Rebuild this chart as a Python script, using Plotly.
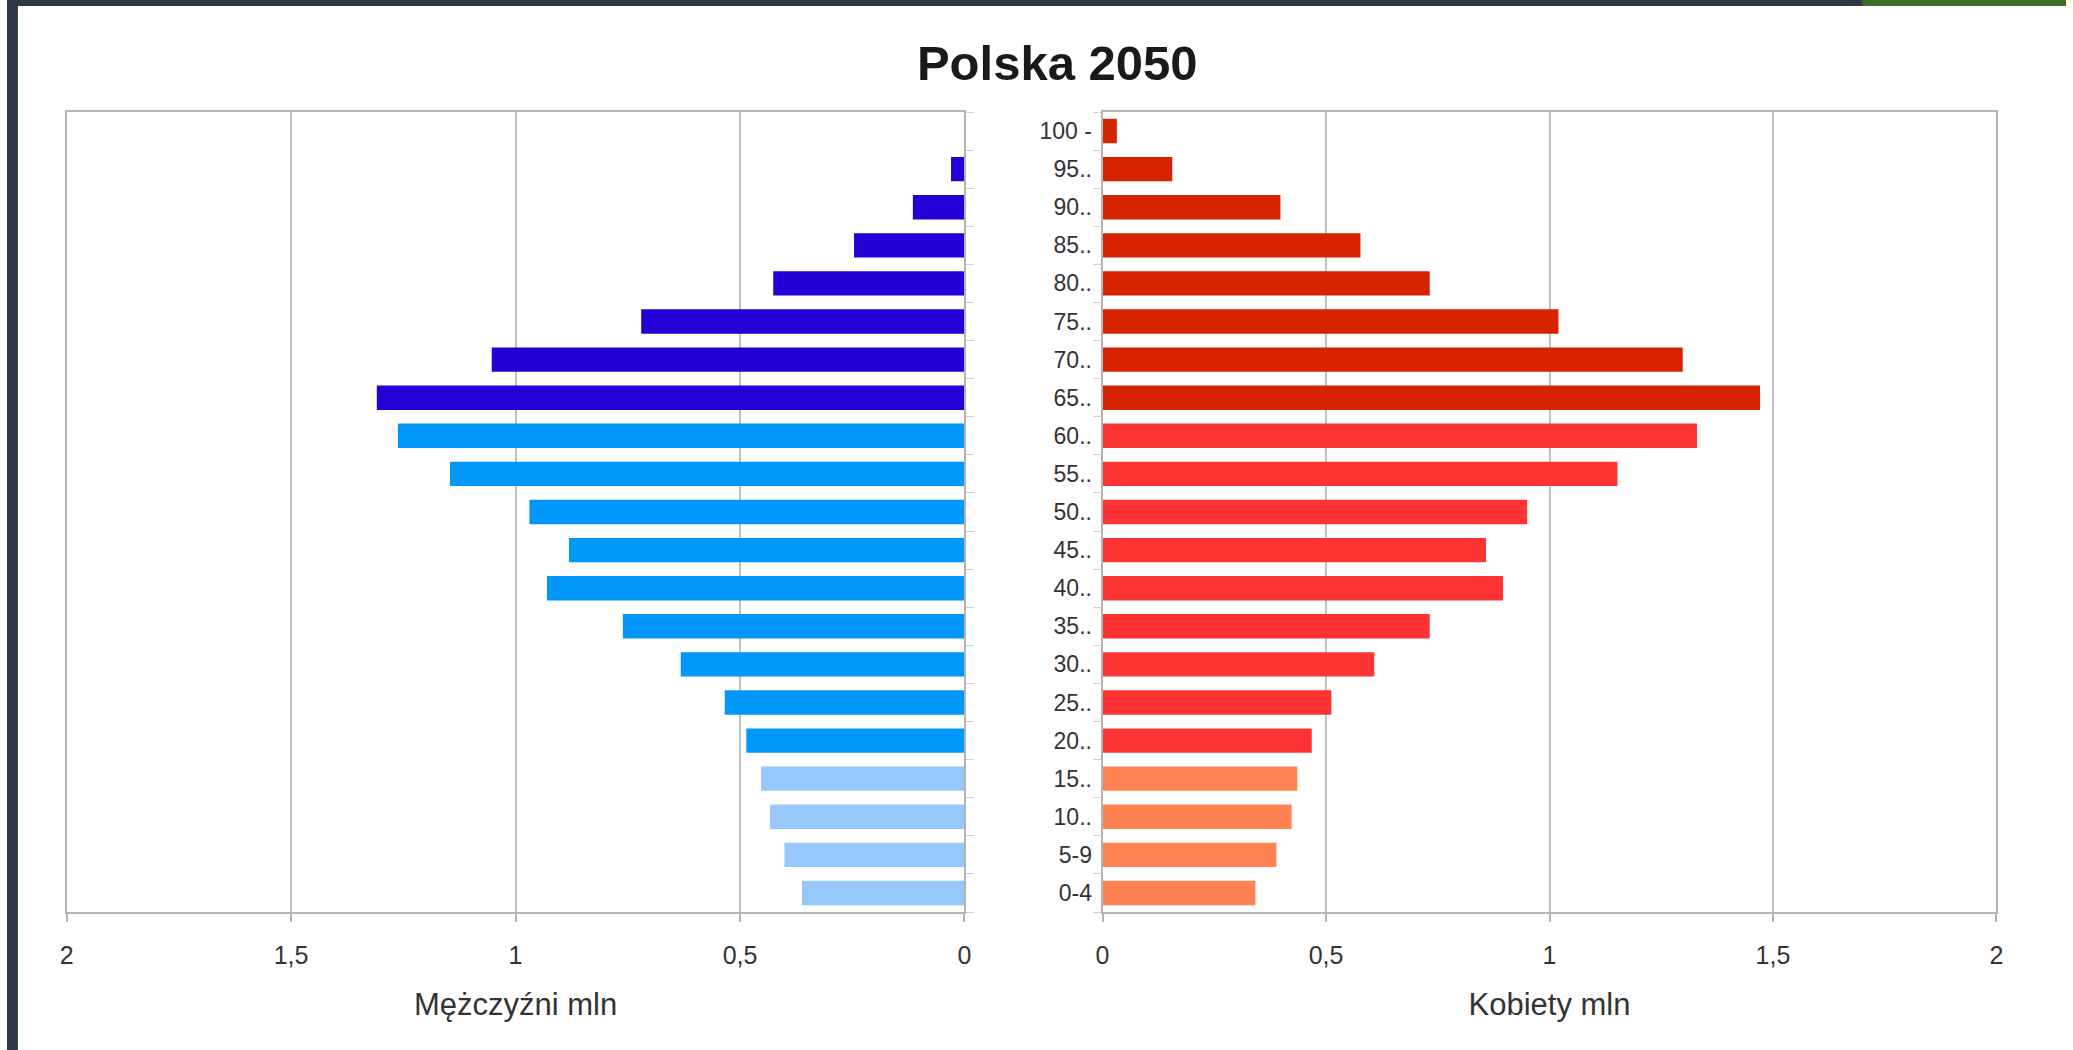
import plotly.graph_objects as go

# ---- data (millions) ----
age_groups = ["0-4", "5-9", "10..", "15..", "20..", "25..", "30..", "35..", "40..", "45..",
              "50..", "55..", "60..", "65..", "70..", "75..", "80..", "85..", "90..", "95..", "100 -"]
men = [0.362, 0.401, 0.433, 0.453, 0.486, 0.534, 0.632, 0.761, 0.930, 0.881,
       0.969, 1.146, 1.262, 1.309, 1.053, 0.720, 0.426, 0.246, 0.115, 0.030, 0.0]
women = [0.342, 0.389, 0.423, 0.436, 0.468, 0.512, 0.608, 0.732, 0.896, 0.858,
         0.950, 1.152, 1.330, 1.471, 1.298, 1.020, 0.732, 0.577, 0.398, 0.156, 0.032]
x_ticks = [0, 0.5, 1, 1.5, 2]
x_tick_text = ["0", "0,5", "1", "1,5", "2"]

title_text = "Polska 2050"
men_title = "Mężczyźni mln"
women_title = "Kobiety mln"

# ---- styles ----
def men_color(i):
    if i <= 3:
        return "#96c8fc"
    if i <= 12:
        return "#0097fb"
    return "#2400d6"

def women_color(i):
    if i <= 3:
        return "#fe8252"
    if i <= 12:
        return "#fe3333"
    return "#d62300"

men_colors = [men_color(i) for i in range(len(age_groups))]
women_colors = [women_color(i) for i in range(len(age_groups))]

W, H = 2073, 1050
FONT = "Liberation Sans, Arial, sans-serif"
GRID = "#c0c0c0"
FRAME = "#b4b4b4"

fig = go.Figure()
fig.add_trace(go.Bar(y=age_groups, x=men, orientation="h", xaxis="x", yaxis="y",
                     marker=dict(color=men_colors, line=dict(width=0)), name="Mężczyźni",
                     showlegend=False))
fig.add_trace(go.Bar(y=age_groups, x=women, orientation="h", xaxis="x2", yaxis="y2",
                     marker=dict(color=women_colors, line=dict(width=0)), name="Kobiety",
                     showlegend=False))

ydom = [1 - 912 / H, 1 - 112 / H]
xaxis_common = dict(
    tickmode="array", tickvals=x_ticks, ticktext=x_tick_text,
    showgrid=True, gridcolor=GRID, gridwidth=2,
    showline=True, linecolor=FRAME, linewidth=2, mirror=True,
    ticks="outside", ticklen=8, tickcolor=FRAME, tickwidth=2,
    tickfont=dict(family=FONT, size=25, color="#333333"),
    ticklabelstandoff=12,
    zeroline=False, fixedrange=True,
)
yaxis_common = dict(
    type="category", categoryorder="array", categoryarray=age_groups,
    tickson="boundaries", ticks="outside", ticklen=8, tickcolor="#d0d0d0", tickwidth=1,
    showgrid=False, showline=True, linecolor=FRAME, linewidth=2, mirror=True,
    domain=ydom, fixedrange=True,
)

fig.update_layout(
    width=W, height=H,
    margin=dict(l=0, r=0, t=0, b=0),
    paper_bgcolor="white", plot_bgcolor="white",
    bargap=0.36,
    font=dict(family=FONT, color="#333333"),
    title=dict(text="<b>" + title_text + "</b>", x=0.51, xanchor="center",
               y=1 - 63 / H, yanchor="middle",
               font=dict(family=FONT, size=49, color="#1a1a1a")),
    xaxis=dict(domain=[60 / W, 964 / W], range=[2, 0], anchor="y",
               title=dict(text=men_title, font=dict(family=FONT, size=31, color="#333333"), standoff=25),
               **xaxis_common),
    xaxis2=dict(domain=[1103 / W, 2003 / W], range=[0, 2], anchor="y2",
                title=dict(text=women_title, font=dict(family=FONT, size=31, color="#333333"), standoff=25),
                **xaxis_common),
    yaxis=dict(anchor="x", side="right", showticklabels=False, **yaxis_common),
    yaxis2=dict(anchor="x2", side="left", showticklabels=True,
                tickfont=dict(family=FONT, size=23, color="#333333"),
                ticklabelstandoff=4, **yaxis_common),
    shapes=[
        dict(type="rect", xref="paper", yref="paper", x0=0, x1=11 / W, y0=0, y1=1,
             fillcolor="#2b3a43", line=dict(width=0), layer="above"),
        dict(type="rect", xref="paper", yref="paper", x0=0, x1=1, y0=1 - 6 / H, y1=1,
             fillcolor="#2b3a43", line=dict(width=0), layer="above"),
        dict(type="rect", xref="paper", yref="paper", x0=1868 / W, x1=1, y0=1 - 6 / H, y1=1,
             fillcolor="#3f6d23", line=dict(width=0), layer="above"),
    ],
)

fig.write_html("out.html",
               config={"displayModeBar": False},
               post_script="document.body.style.margin='0';document.body.style.overflow='hidden';")
